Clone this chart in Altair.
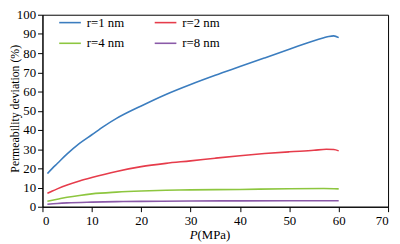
import altair as alt
import pandas as pd

series_names = ["r=1 nm", "r=2 nm", "r=4 nm", "r=8 nm"]
series_colors = ["#3b7dbf", "#e63c4b", "#8dc63f", "#8a5aa8"]

p_r1 = [1, 2, 3, 5, 7.5, 10, 12.5, 15, 20, 25, 30, 35, 40, 45, 50, 55, 57, 58, 59, 60]
v_r1 = [17.3, 20.0, 22.5, 27.5, 33.0, 37.5, 42.0, 46.0, 52.5, 58.5, 63.7, 68.5, 73.0, 77.5, 82.0, 86.5, 88.0, 88.7, 89.0, 88.1]

p_r2 = [1, 2, 3, 5, 7.5, 10, 15, 20, 25, 30, 35, 40, 45, 50, 55, 57.5, 59, 60]
v_r2 = [7.0, 8.2, 9.3, 11.3, 13.4, 15.2, 18.4, 20.9, 22.6, 23.9, 25.3, 26.6, 27.7, 28.6, 29.4, 29.9, 29.8, 29.1]

p_r4 = [1, 2, 3, 5, 7.5, 10, 15, 20, 25, 30, 40, 50, 57, 60]
v_r4 = [2.9, 3.4, 3.9, 4.9, 5.9, 6.7, 7.6, 8.2, 8.6, 8.8, 9.0, 9.4, 9.5, 9.3]

p_r8 = [1, 3, 5, 10, 15, 20, 30, 40, 50, 60]
v_r8 = [1.3, 1.7, 2.0, 2.4, 2.65, 2.8, 3.0, 3.05, 3.1, 3.1]

x_ticks = [0, 10, 20, 30, 40, 50, 60, 70]
y_ticks = [0, 10, 20, 30, 40, 50, 60, 70, 80, 90, 100]

rows = []
for name, ps, vs in zip(series_names, [p_r1, p_r2, p_r4, p_r8], [v_r1, v_r2, v_r4, v_r8]):
    for p, v in zip(ps, vs):
        rows.append({"series": name, "P": p, "dev": v})
df = pd.DataFrame(rows)

FONT = "Liberation Serif"

lines = alt.Chart(df).mark_line(strokeWidth=1.6, interpolate="monotone").encode(
    x=alt.X("P:Q", scale=alt.Scale(domain=[0, 70], nice=False),
            axis=alt.Axis(values=x_ticks, title=None, labelPadding=3)),
    y=alt.Y("dev:Q", scale=alt.Scale(domain=[0, 100], nice=False),
            axis=alt.Axis(values=y_ticks, title="Permeability deviation (%)",
                          titleX=-28, titleY=95, titleAngle=270,
                          titleAlign="center", titleBaseline="middle",
                          labelPadding=2)),
    color=alt.Color("series:N", scale=alt.Scale(domain=series_names, range=series_colors),
                    legend=alt.Legend(title=None, orient="none", legendX=16, legendY=-4,
                                      columns=2, direction="horizontal",
                                      symbolType="stroke", symbolSize=484,
                                      symbolStrokeWidth=1.6, labelFont=FONT,
                                      labelFontSize=13, labelColor="black",
                                      columnPadding=26, rowPadding=2,
                                      labelOffset=5, padding=0)),
)

xt_p = alt.Chart(pd.DataFrame({"t": ["P"]})).mark_text(
    font=FONT, fontSize=13, fontStyle="italic", align="right", baseline="middle", color="black"
).encode(x=alt.value(157.5), y=alt.value(224), text="t:N")

xt_rest = alt.Chart(pd.DataFrame({"t": ["(MPa)"]})).mark_text(
    font=FONT, fontSize=13, align="left", baseline="middle", color="black"
).encode(x=alt.value(157.5), y=alt.value(224), text="t:N")

chart = alt.layer(lines, xt_p, xt_rest).properties(
    width=351, height=195,
    autosize=alt.AutoSizeParams(type="none"),
    padding={"left": 35, "top": 5, "right": 4, "bottom": 36},
).configure_view(
    stroke="black", strokeWidth=1
).configure_axis(
    grid=False, domainColor="black", tickColor="black", tickSize=5,
    labelFont=FONT, labelFontSize=13, labelColor="black",
    titleFont=FONT, titleFontSize=12, titleFontWeight="normal", titleColor="black",
    domainWidth=1, tickWidth=1,
)

chart.save("out.html", embed_options={"renderer": "svg", "actions": False})
